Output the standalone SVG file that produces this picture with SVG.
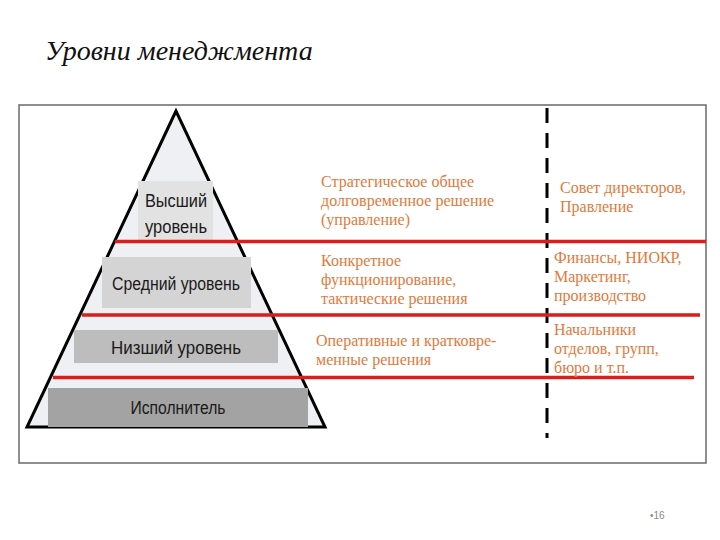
<svg xmlns="http://www.w3.org/2000/svg" width="720" height="540" viewBox="0 0 720 540">
<style>
.lvl{font-family:"Liberation Sans",Arial,sans-serif;font-size:18px;fill:#1a1a1a;text-anchor:middle}
.note{font-family:"Liberation Serif","Times New Roman",serif;font-size:16px;fill:#E07A3C}
.red{stroke:#D81E1E;stroke-width:3.5;fill:none}
</style>
<rect width="720" height="540" fill="#ffffff"/>
<text x="45" y="60" font-family="Liberation Serif,'Times New Roman',serif" font-style="italic" font-size="28" fill="#111">Уровни менеджмента</text>
<rect x="19" y="105" width="687" height="358" fill="#ffffff" stroke="#6a6a6a" stroke-width="1.5"/>
<g id="pyramid">
<polygon points="176,111 27,427 325,427" fill="#EEF0F4" stroke="#000" stroke-width="3" stroke-linejoin="miter"/>
</g>
<g id="top">
<rect x="138" y="181" width="75" height="59" fill="#E2E2E2"/>
<text class="lvl" x="176" y="206.5" textLength="62" lengthAdjust="spacingAndGlyphs">Высший</text>
<text class="lvl" x="176" y="233" textLength="62" lengthAdjust="spacingAndGlyphs">уровень</text>
</g>
<g id="middle">
<rect x="102" y="257" width="149" height="51" fill="#D4D4D4"/>
<text class="lvl" x="176" y="290" textLength="128" lengthAdjust="spacingAndGlyphs">Средний уровень</text>
</g>
<g id="low">
<rect x="74" y="330" width="204" height="33" fill="#BDBDBD"/>
<text class="lvl" x="176" y="353.5" textLength="130" lengthAdjust="spacingAndGlyphs">Низший уровень</text>
</g>
<g id="exec">
<rect x="48" y="388" width="260" height="39" fill="#A3A3A3"/>
<text class="lvl" x="178" y="413.5" textLength="95" lengthAdjust="spacingAndGlyphs">Исполнитель</text>
</g>
<g id="connectors">
<line x1="547" y1="108" x2="547" y2="438" stroke="#000" stroke-width="3" stroke-dasharray="15,10"/>
<line class="red" x1="115" y1="241.5" x2="706" y2="241.5"/>
<line class="red" x1="82" y1="315" x2="700" y2="315"/>
<line class="red" x1="53" y1="377.5" x2="694" y2="377.5"/>
</g>
<g id="notes">
<text class="note" x="321" y="187">Стратегическое общее</text>
<text class="note" x="321" y="206">долговременное решение</text>
<text class="note" x="321" y="225">(управление)</text>
<text class="note" x="321" y="266">Конкретное</text>
<text class="note" x="321" y="285">функционирование,</text>
<text class="note" x="321" y="304">тактические решения</text>
<text class="note" x="316" y="346">Оперативные и кратковре-</text>
<text class="note" x="316" y="365">менные решения</text>
<text class="note" x="560" y="193">Совет директоров,</text>
<text class="note" x="560" y="212">Правление</text>
<text class="note" x="554" y="263">Финансы, НИОКР,</text>
<text class="note" x="554" y="282">Маркетинг,</text>
<text class="note" x="554" y="301">производство</text>
<text class="note" x="554" y="335">Начальники</text>
<text class="note" x="554" y="354">отделов, групп,</text>
<text class="note" x="554" y="373">бюро и т.п.</text>
</g>
<text x="650" y="519" font-family="Liberation Sans,Arial,sans-serif" font-size="10" fill="#8a8a8a">•16</text>
</svg>
